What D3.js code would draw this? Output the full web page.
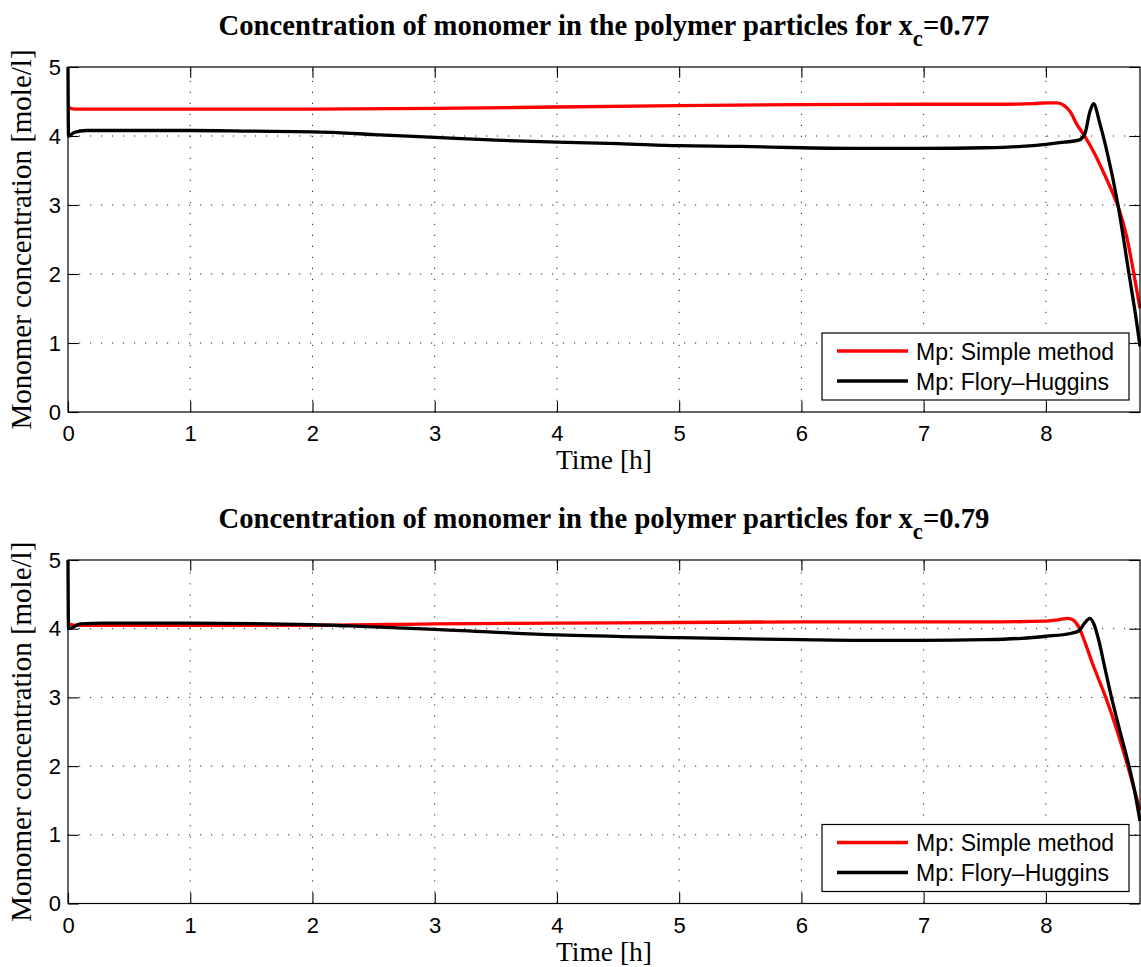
<!DOCTYPE html>
<html>
<head>
<meta charset="utf-8">
<script src="https://cdn.jsdelivr.net/npm/d3@7"></script>
<style>
  body { margin: 0; background: #fff; }
  svg { display: block; }
</style>
</head>
<body>
<svg id="fig" width="1141" height="967"></svg>
<script>
// ---- data -------------------------------------------------------------
const xTicks = [0, 1, 2, 3, 4, 5, 6, 7, 8];
const yTicks = [0, 1, 2, 3, 4, 5];
const seriesNames = ["Mp: Simple method", "Mp: Flory\u2013Huggins"];
const panelXc = ["0.77", "0.79"];

// x_c = 0.77, simple method
const tSimple77 = [0, 0.05, 0.15, 1, 2, 3, 4, 5, 6, 7, 7.6, 7.9, 8.0, 8.09, 8.15, 8.2, 8.25, 8.32, 8.4, 8.48, 8.55, 8.6, 8.66, 8.71, 8.74, 8.77];
const mSimple77 = [4.42, 4.39, 4.39, 4.39, 4.39, 4.40, 4.42, 4.44, 4.455, 4.46, 4.46, 4.47, 4.48, 4.48, 4.44, 4.35, 4.18, 3.99, 3.74, 3.44, 3.16, 2.93, 2.55, 2.1, 1.8, 1.5];
// x_c = 0.77, Flory-Huggins
const tFH77 = [0, 0.004, 0.05, 0.15, 1, 1.5, 2, 2.2, 2.5, 3, 3.5, 4, 4.5, 5, 5.5, 6, 6.5, 7, 7.5, 7.8, 8.0, 8.15, 8.27, 8.32, 8.36, 8.39, 8.44, 8.49, 8.59, 8.68, 8.74, 8.77];
const mFH77 = [5.0, 4.0, 4.05, 4.08, 4.08, 4.07, 4.06, 4.05, 4.02, 3.98, 3.94, 3.91, 3.89, 3.86, 3.85, 3.83, 3.82, 3.82, 3.83, 3.85, 3.88, 3.91, 3.94, 4.04, 4.35, 4.47, 4.19, 3.85, 3.0, 2.0, 1.33, 0.95];

// x_c = 0.79, simple method
const tSimple79 = [0, 0.05, 0.2, 1, 2, 3, 4, 5, 6, 7, 7.62, 8.0, 8.1, 8.18, 8.22, 8.27, 8.32, 8.38, 8.49, 8.58, 8.67, 8.72, 8.77];
const mSimple79 = [4.08, 4.05, 4.05, 4.05, 4.05, 4.07, 4.08, 4.09, 4.10, 4.10, 4.10, 4.11, 4.13, 4.15, 4.13, 4.02, 3.8, 3.5, 3.0, 2.53, 2.0, 1.68, 1.36];
// x_c = 0.79, Flory-Huggins
const tFH79 = [0, 0.004, 0.1, 0.3, 1, 2, 2.3, 3, 4, 5, 6, 6.5, 7, 7.5, 7.8, 8.0, 8.2, 8.27, 8.32, 8.36, 8.39, 8.43, 8.48, 8.53, 8.6, 8.68, 8.73, 8.77];
const mFH79 = [5.0, 4.0, 4.07, 4.08, 4.08, 4.06, 4.04, 3.99, 3.91, 3.87, 3.84, 3.83, 3.83, 3.84, 3.86, 3.89, 3.93, 3.97, 4.09, 4.15, 4.08, 3.85, 3.45, 3.05, 2.55, 2.0, 1.6, 1.2];

// ---- layout -----------------------------------------------------------
const left = 68, right = 1140;
const panels = [
  { top: 67,  bottom: 412,   xc: panelXc[0],
    series: [{ t: tSimple77, m: mSimple77, color: "#ff0000" }, { t: tFH77, m: mFH77, color: "#000000" }] },
  { top: 560, bottom: 903.5, xc: panelXc[1],
    series: [{ t: tSimple79, m: mSimple79, color: "#ff0000" }, { t: tFH79, m: mFH79, color: "#000000" }] }
];

const svg = d3.select("#fig");
const tickLen = 10.7;
const serif = "'Liberation Serif', 'Times New Roman', serif";
const sans = "'Liberation Sans', Arial, Helvetica, sans-serif";

panels.forEach(p => {
  const x = d3.scaleLinear().domain([0, 8.77]).range([left, right]);
  const y = d3.scaleLinear().domain([0, 5]).range([p.bottom, p.top]);
  const g = svg.append("g");

  // dotted grid
  const grid = g.append("g").attr("stroke", "#222").attr("stroke-width", 1)
    .attr("stroke-dasharray", "1.2,9.8").attr("fill", "none");
  grid.selectAll("line.vx").data(xTicks.filter(v => v > 0)).join("line")
    .attr("x1", d => x(d)).attr("x2", d => x(d))
    .attr("y1", p.bottom).attr("y2", p.top);
  grid.selectAll("line.hy").data(yTicks.filter(v => v > 0 && v < 5)).join("line")
    .attr("x1", left).attr("x2", right)
    .attr("y1", d => y(d)).attr("y2", d => y(d));

  // axes with inward ticks on all four sides
  const fmt = d3.format("d");
  const axB = g.append("g").attr("transform", `translate(0,${p.bottom})`)
    .call(d3.axisBottom(x).tickValues(xTicks).tickFormat(fmt).tickSizeInner(-tickLen).tickSizeOuter(0).tickPadding(13.4));
  const axT = g.append("g").attr("transform", `translate(0,${p.top})`)
    .call(d3.axisTop(x).tickValues(xTicks).tickFormat("").tickSizeInner(-tickLen).tickSizeOuter(0));
  const axL = g.append("g").attr("transform", `translate(${left},0)`)
    .call(d3.axisLeft(y).tickValues(yTicks).tickFormat(fmt).tickSizeInner(-tickLen).tickSizeOuter(0).tickPadding(7));
  const axR = g.append("g").attr("transform", `translate(${right},0)`)
    .call(d3.axisRight(y).tickValues(yTicks).tickFormat("").tickSizeInner(-tickLen).tickSizeOuter(0));
  [axB, axT, axL, axR].forEach(a => {
    a.select(".domain").remove();
    a.selectAll("line").attr("stroke", "#000").attr("stroke-width", 1.1);
    a.selectAll("text").attr("font-family", sans).attr("font-size", 22).attr("fill", "#000");
  });

  // data lines
  const line = d3.line().curve(d3.curveMonotoneX);
  p.series.forEach(s => {
    const pts = s.t.map((t, i) => [x(t), y(s.m[i])]);
    g.append("path").attr("d", line(pts)).attr("fill", "none")
      .attr("stroke", s.color).attr("stroke-width", 3.3).attr("stroke-linejoin", "round");
  });

  // axes box
  g.append("rect").attr("x", left).attr("y", p.top)
    .attr("width", right - left).attr("height", p.bottom - p.top)
    .attr("fill", "none").attr("stroke", "#000").attr("stroke-width", 1.2);

  // title
  const cx = (left + right) / 2;
  const title = g.append("text").attr("x", cx).attr("y", p.top - 32)
    .attr("text-anchor", "middle").attr("font-family", serif).attr("font-weight", "bold")
    .attr("font-size", 29).attr("fill", "#000");
  title.append("tspan").text("Concentration of monomer in the polymer particles for x");
  title.append("tspan").attr("dy", 11).attr("font-size", 23).text("c");
  title.append("tspan").attr("dy", -11).text("=" + p.xc);
  const bb = title.node().getBBox();
  const sx = 771 / bb.width;
  title.attr("transform", `translate(${cx},0) scale(${sx},1) translate(${-cx},0)`);

  // axis labels
  g.append("text").attr("x", cx).attr("y", p.bottom + 57)
    .attr("text-anchor", "middle").attr("font-family", serif).attr("font-size", 27.5)
    .attr("fill", "#000").text("Time [h]");
  g.append("text").attr("transform", `translate(31,${(p.top + p.bottom) / 2}) rotate(-90)`)
    .attr("text-anchor", "middle").attr("font-family", serif).attr("font-size", 29)
    .attr("fill", "#000").text("Monomer concentration [mole/l]");

  // legend
  const lg = g.append("g");
  const lx0 = 822, lx1 = 1129, ly1 = p.bottom - 12, ly0 = ly1 - 67;
  lg.append("rect").attr("x", lx0).attr("y", ly0).attr("width", lx1 - lx0).attr("height", ly1 - ly0)
    .attr("fill", "#fff").attr("stroke", "#000").attr("stroke-width", 1.2);
  seriesNames.forEach((name, i) => {
    const yy = ly0 + 18 + i * 30;
    lg.append("line").attr("x1", 837).attr("x2", 908).attr("y1", yy).attr("y2", yy)
      .attr("stroke", p.series[i].color).attr("stroke-width", 3.3);
    lg.append("text").attr("x", 916).attr("y", yy + 8.5)
      .attr("font-family", sans).attr("font-size", 23).attr("fill", "#000").text(name);
  });
});
</script>
</body>
</html>
